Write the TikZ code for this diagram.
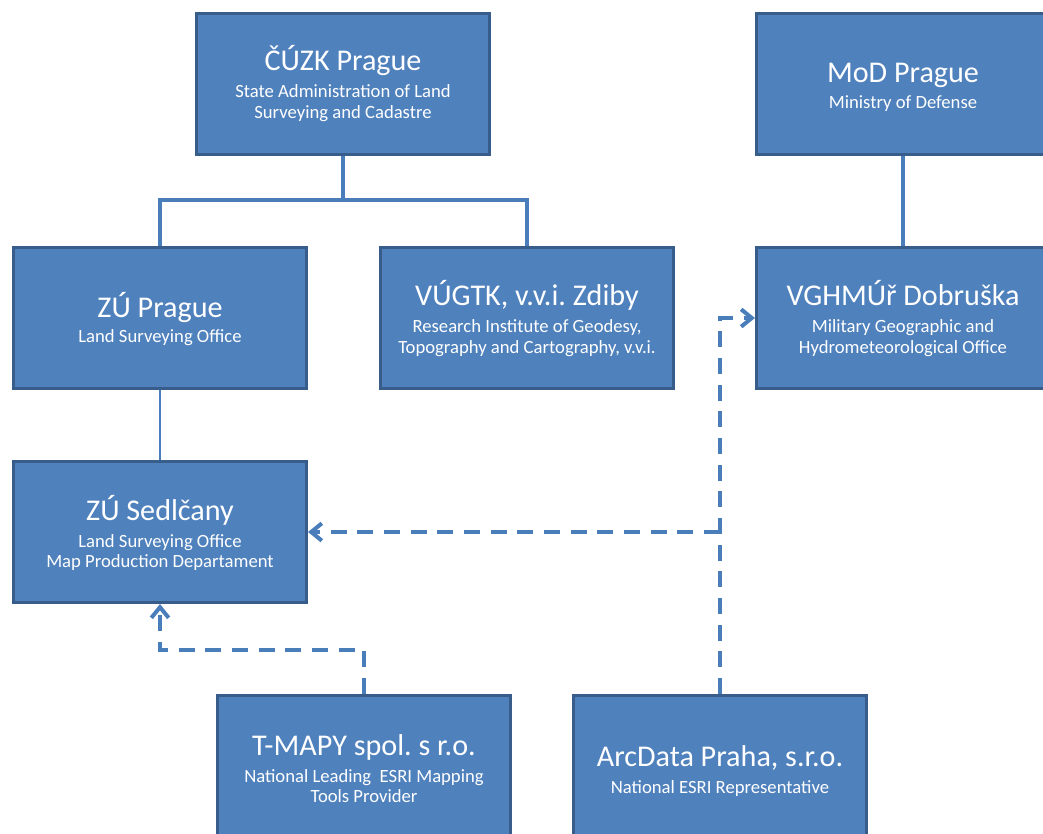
\documentclass[tikz,border=0pt]{standalone}
\usepackage{fontspec}
\setmainfont{Carlito}
\usetikzlibrary{arrows.meta}
\definecolor{boxfill}{HTML}{4F81BD}
\definecolor{boxline}{HTML}{385D8A}
\definecolor{conn}{HTML}{4A7EBB}
\frenchspacing
\begin{document}
\begin{tikzpicture}[x=0.75pt,y=-0.75pt,
  orgbox/.style={draw=boxline,fill=boxfill,line width=2.25pt,minimum width=219.75pt,minimum height=105.75pt,inner sep=0pt},
  ttl/.style={text=white,font=\fontsize{22.6}{26}\selectfont\frenchspacing,anchor=base,inner sep=0pt},
  sub/.style={text=white,font=\fontsize{14}{17}\selectfont\frenchspacing,anchor=base,inner sep=0pt},
  tree/.style={draw=conn,line width=3pt},
  thinlink/.style={draw=conn,line width=1.1pt},
  dashlink/.style={draw=conn,line width=3pt,dash pattern=on 12pt off 8pt,-{Straight Barb[length=8pt,width=13pt]}}]
\useasboundingbox (0,0) rectangle (1043,833);
\clip (0,0) rectangle (1043,833);
% boxes
\node[orgbox] (cuzk) at (343,84) {};
\node[orgbox] (mod) at (903,84) {};
\node[orgbox] (zup) at (160,318) {};
\node[orgbox] (vug) at (527,318) {};
\node[orgbox] (vg) at (903,318) {};
\node[orgbox] (sed) at (160,532) {};
\node[orgbox] (tm) at (364,766) {};
\node[orgbox] (arc) at (720,766) {};
% texts
\node[ttl] (cuzkT) at (343,70) {ČÚZK Prague};
\node[sub] (cuzkS1) at (343,97) {State Administration of Land};
\node[sub] (cuzkS2) at (343,118) {Surveying and Cadastre};
\node[ttl] (modT) at (903,82) {MoD Prague};
\node[sub] (modS1) at (903,108) {Ministry of Defense};
\node[ttl] (zupT) at (160,317) {ZÚ Prague};
\node[sub] (zupS1) at (160,342) {Land Surveying Office};
\node[ttl] (vugT) at (527,305) {VÚGTK, v.v.i. Zdiby};
\node[sub] (vugS1) at (527,332) {Research Institute of Geodesy,};
\node[sub] (vugS2) at (527,353) {Topography and Cartography, v.v.i.};
\node[ttl] (vgT) at (903,305) {VGHMÚř Dobruška};
\node[sub] (vgS1) at (903,332) {Military Geographic and};
\node[sub] (vgS2) at (903,353) {Hydrometeorological Office};
\node[ttl] (sedT) at (160,520) {ZÚ Sedlčany};
\node[sub] (sedS1) at (160,547) {Land Surveying Office};
\node[sub] (sedS2) at (160,567) {Map Production Departament};
\node[ttl] (tmT) at (364,755) {T-MAPY spol. s r.o.};
\node[sub] (tmS1) at (364,782) {National Leading\ \ ESRI Mapping};
\node[sub] (tmS2) at (364,802) {Tools Provider};
\node[ttl] (arcT) at (720,766) {ArcData Praha, s.r.o.};
\node[sub] (arcS1) at (720,793) {National ESRI Representative};
% connectors
\draw[tree] (cuzk.south) -- ++(0,44) coordinate (j1) -| (zup.north);
\draw[tree] (j1) -| (vug.north);
\draw[tree] (mod.south) -- (vg.north);
\draw[thinlink] (zup.south) -- (sed.north);
\draw[dashlink] (arc.north) |- (vg.west);
\coordinate (br) at (720,532);
\draw[dashlink] (br) -- (sed.east);
\draw[dashlink] (tm.north) -- ++(0,-44) -| (sed.south);
\end{tikzpicture}
\end{document}
